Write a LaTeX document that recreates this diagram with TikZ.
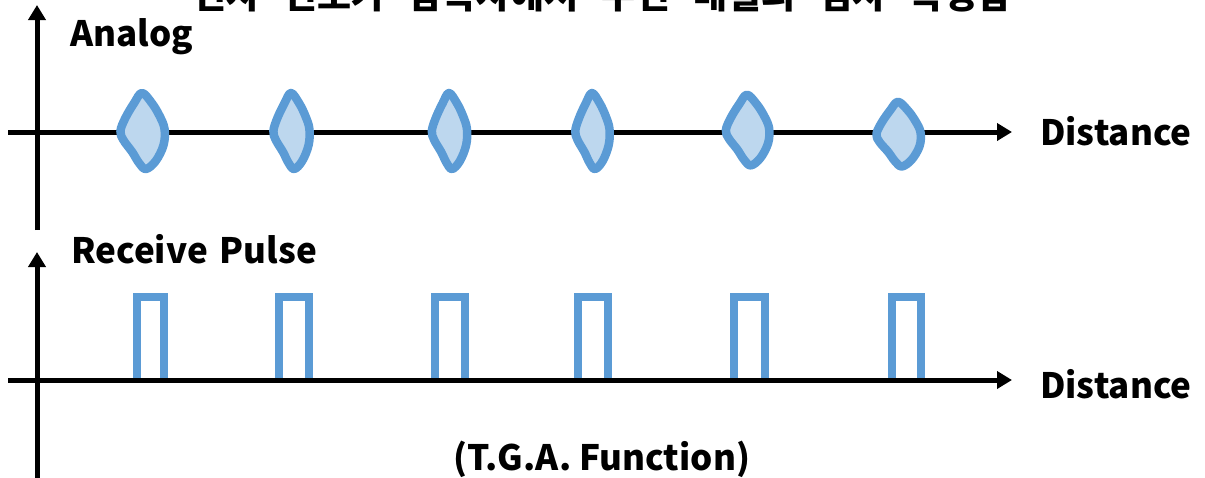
\documentclass[tikz,border=0pt]{standalone}
\usepackage{fontspec}
\newfontfamily\lbl{Noto Sans CJK KR}
\usetikzlibrary{arrows.meta}

\definecolor{pulseblue}{HTML}{5B9BD5}
\definecolor{lensfill}{HTML}{BDD7EE}

\tikzset{
  axis/.style={line width=5pt, -{Triangle[length=15pt,width=17pt]}},
  lens/.style={draw=pulseblue, fill=lensfill, line width=8.5pt, line join=round},
  pulse/.style={draw=pulseblue, line width=8pt, line join=miter},
  label/.style={inner sep=0pt, font=\lbl\bfseries\fontsize{35}{40}\selectfont},
  title/.style={inner sep=0pt, font=\lbl\bfseries\fontsize{37}{40}\selectfont}
}

% wide gap between the words of the heading
\newcommand{\gap}{\hspace{23pt}}

% one echo lens on the upper axis: centre x, x-scale, y-scale, vertical shift
\newcommand{\echolens}[4]{%
  \begin{scope}[shift={(#1,132+#4)}, xscale=#2, yscale=#3]
    \path[lens] plot[smooth cycle, tension=0.6] coordinates {
      (0,-39) (10,-29) (18,-16) (23,-3) (22,13) (14,29) (4,37)
      (-3,31) (-10,20) (-19,8) (-22,-1) (-17,-14) (-8,-29)};
  \end{scope}}

% one receive pulse on the lower axis between two x positions
\newcommand{\rxpulse}[2]{%
  \draw[pulse] (#1,380) -- (#1,296.5) -- (#2,296.5) -- (#2,380);}

\begin{document}
\begin{tikzpicture}[x=1pt, y=-1pt]
\useasboundingbox (0,0) rectangle (1205,477);

% axis end points
\coordinate (topOrigin)  at (37,230);
\coordinate (topUp)      at (37,5);
\coordinate (topLeft)    at (8,132);
\coordinate (topRight)   at (1012,132);
\coordinate (botOrigin)  at (37,480);
\coordinate (botUp)      at (37,252);
\coordinate (botLeft)    at (8,380);
\coordinate (botRight)   at (1012,380);

% heading, running past the top edge
\node[title, anchor=base] (heading) at (602,8)
  {전자\gap 신호가\gap 탐촉자에서\gap 수신\gap 매질의\gap 검사\gap 측정함};

% upper plot: axes under the echo lenses
\draw[axis] (topOrigin) -- (topUp);
\draw[axis] (topLeft) -- (topRight);
\echolens{142}{0.98}{1.00}{0}
\echolens{291}{0.80}{1.00}{0}
\echolens{449}{0.78}{1.00}{0}
\echolens{592}{0.76}{1.00}{0}
\echolens{747}{0.96}{0.93}{-1}
\echolens{898}{0.98}{0.85}{3}

% lower plot: pulses under the axes
\rxpulse{136.5}{163.5}
\rxpulse{278.5}{308.5}
\rxpulse{434.5}{464.5}
\rxpulse{577.5}{607.5}
\rxpulse{733.5}{764.5}
\rxpulse{891.5}{920.5}
\draw[axis] (botOrigin) -- (botUp);
\draw[axis] (botLeft) -- (botRight);

% labels
\node[label, anchor=base west] (analog)  at (70,46)   {Analog};
\node[label, anchor=base west] (dist1)   at (1040,145) {Distance};
\node[label, anchor=base west] (receive) at (71,263)  {Receive\hspace{12pt}Pulse};
\node[label, anchor=base west] (dist2)   at (1040,398) {Distance};
\node[label, anchor=base]      (tga)     at (602,470) {(T.G.A. Function)};
\end{tikzpicture}
\end{document}
